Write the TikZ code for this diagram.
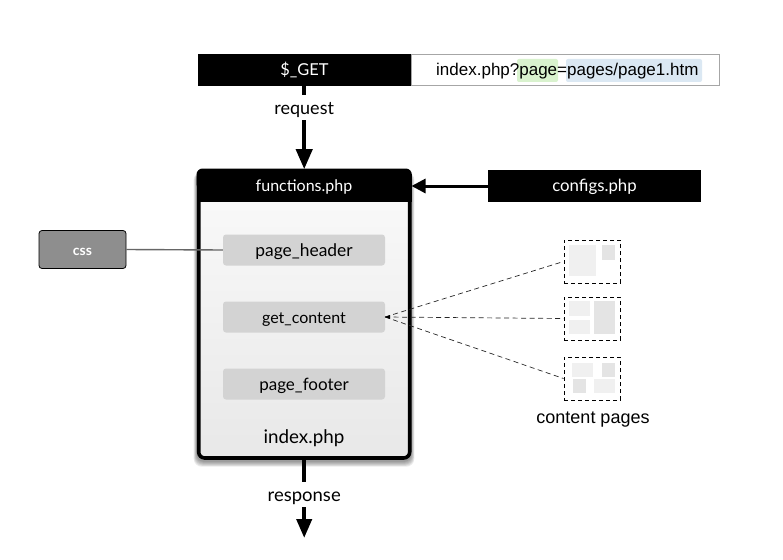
\documentclass[tikz,border=0pt]{standalone}
\usepackage{fontspec}
\setmainfont{Lato}
\newfontfamily\helv{Liberation Sans}
\usetikzlibrary{arrows.meta,calc}
\definecolor{pillgray}{HTML}{D3D3D3}
\definecolor{cssgray}{HTML}{8E8E8E}
\definecolor{pagea}{HTML}{F0F0F0}
\definecolor{pageb}{HTML}{E4E4E4}
\definecolor{hlgreen}{HTML}{D9F2CE}
\definecolor{hlblue}{HTML}{DBE8F3}
\definecolor{boxtop}{HTML}{FAFAFA}
\definecolor{boxmid}{HTML}{F6F6F6}
\definecolor{boxbot}{HTML}{E8E8E8}
\newcommand{\fsz}[1]{\fontsize{#1}{#1}\selectfont}
\newcommand{\bl}[2]{\smash{\raisebox{-#1pt}{#2}}}
\tikzset{
  blackbar/.style={fill=black,text=white,inner sep=0pt},
  pill/.style={fill=pillgray,rounded corners=3pt,minimum width=162pt,minimum height=31pt,inner sep=0pt},
  dashbox/.style={draw=black,line width=0.9pt,dash pattern=on 4pt off 3pt,minimum width=56pt,minimum height=43pt,inner sep=0pt},
  bigarrow/.style={line width=4pt,-{Triangle[length=20pt,width=16pt]}},
  dashline/.style={draw=black!85,line width=0.7pt,dash pattern=on 5pt off 3.5pt},
  lbl/.style={fill=white,inner sep=0pt,minimum height=25pt,minimum width=20pt},
  pa/.style={fill=pagea},
  pb/.style={fill=pageb}
}
\begin{document}
\begin{tikzpicture}[x=1pt,y=-1pt]
\useasboundingbox (0,0) rectangle (783,559);
% shadow
\foreach \i in {1,...,6}{
  \fill[black,opacity=0.08,rounded corners=8pt]
    ($(197,172)+(-\i*0.55,0)$) rectangle ($(411,461)+(\i*0.55,\i*0.95)$);
}
% main box
\node[draw=black,line width=3.6pt,rounded corners=6pt,inner sep=0pt,
      minimum width=211pt,minimum height=287pt,
      top color=boxtop,middle color=boxmid,bottom color=boxbot] (main) at (304.2,314.5) {};
\fill[black,rounded corners=6pt] (196.5,168.5) rectangle (411.8,190);
\fill[black] (196.5,180) rectangle (411.8,202);
\node[text=white,font=\fsz{16},inner sep=0pt] (fn) at (304,186) {\bl{5.7}{functions.php}};
\node[font=\fsz{18.8},inner sep=0pt] (idx) at (304,437) {\bl{6}{index.php}};
% pills
\node[pill,font=\fsz{17.4}] (hdr) at (304,250) {\bl{6}{page\_header}};
\node[pill,font=\fsz{16}] (cnt) at (304,317) {\bl{6}{get\_content}};
\node[pill,font=\fsz{17}] (ftr) at (304,384) {\bl{6}{page\_footer}};
% URL bar
\node[draw=black!35,fill=white,line width=0.7pt,minimum width=308pt,minimum height=31pt,inner sep=0pt] (url) at (565,70) {};
\fill[hlgreen,rounded corners=2pt] (517,59) rectangle (558,82);
\fill[hlblue,rounded corners=2pt] (566,59) rectangle (702,82);
\node[anchor=west,font=\helv\fsz{17},inner sep=0pt] (urltext) at (436,70) {\bl{5.5}{index.php?page=pages/page1.htm}};
\node[blackbar,minimum width=213pt,minimum height=32pt,font=\fsz{16.4}] (get) at (304.5,70) {\bl{6}{\$\_GET}};
\node[blackbar,minimum width=213pt,minimum height=32pt,font=\fsz{16.8}] (cfg) at (594.5,186) {\bl{5.7}{configs.php}};
% css
\node[draw=black,fill=cssgray,rounded corners=3pt,line width=0.8pt,minimum width=87pt,minimum height=38pt,inner sep=0pt,text=white,font=\bfseries\fsz{14}] (css) at (82.5,249.5) {\bl{6}{css}};
\draw[draw=black!60,line width=1.4pt] (css.east) -- (hdr.west);
% arrows
\draw[bigarrow] (get.south -| main.north) -- (main.north) node[pos=0.26,lbl,font=\fsz{18}] (req) {\bl{7}{request}};
\draw[line width=3pt,-{Triangle[length=14pt,width=14pt]}] (cfg.west) -- (main.east |- cfg.west);
\coordinate (respend) at (304.2,538);
\draw[bigarrow,-{Triangle[length=19pt,width=15pt]}] (main.south) -- (respend) node[pos=0.443,lbl,font=\fsz{18.5}] (resp) {\bl{7.5}{response}};
% content pages
\node[dashbox] (p1) at (592,261.5) {};
\node[dashbox] (p2) at (592,318.5) {};
\node[dashbox] (p3) at (592,378.5) {};
\fill[pa] (569,245) rectangle (596,276);
\fill[pb] (602,245) rectangle (615,260);
\fill[pa] (569,301) rectangle (590,316);
\fill[pa] (569,320) rectangle (590,334);
\fill[pb] (594,301) rectangle (615,334);
\fill[pa] (572,363) rectangle (593,377);
\fill[pb] (602,363) rectangle (615,377);
\fill[pb] (573,379) rectangle (586,393);
\fill[pa] (594,379) rectangle (615,393);
\coordinate (hub) at (385,317);
\draw[dashline] (hub) -- (p1.west);
\draw[dashline] (hub) -- (p2.west);
\draw[dashline] (hub) -- (p3.west);
\fill[black] (385,317) -- (390,315) -- (390,319) -- cycle;
\node[font=\helv\fsz{18},inner sep=0pt] (cap) at (593,417) {\bl{6}{content pages}};
\end{tikzpicture}
\end{document}
